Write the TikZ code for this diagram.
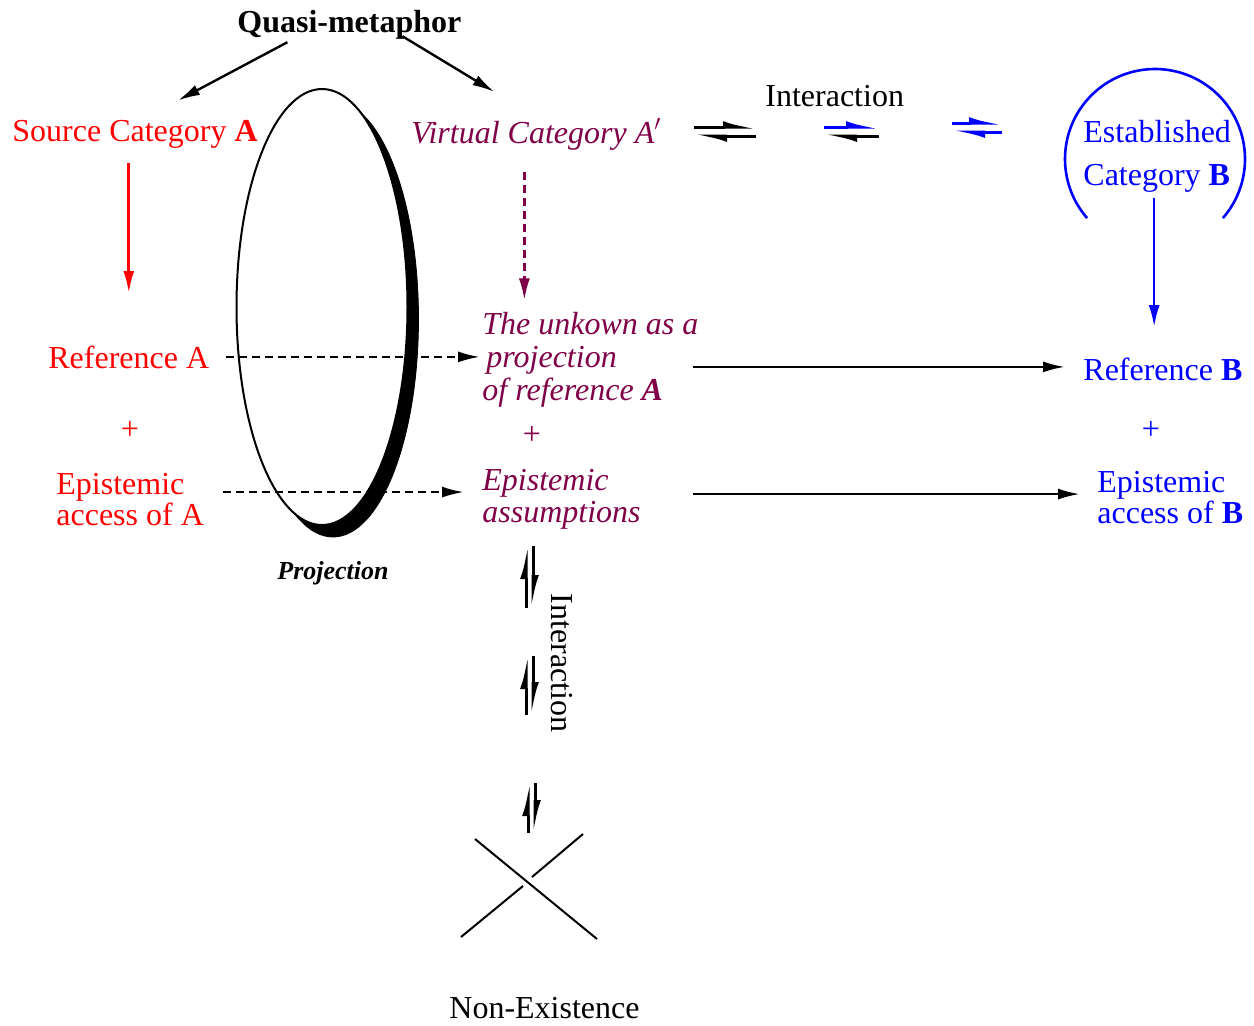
\documentclass[tikz,border=0pt]{standalone}
\usepackage{fontspec}
\setmainfont{Liberation Serif}
\usetikzlibrary{arrows.meta,calc}
\definecolor{srcred}{RGB}{255,0,0}
\definecolor{virtpurple}{RGB}{128,0,72}
\definecolor{estblue}{RGB}{0,0,255}
\tikzset{>={Latex[length=11pt,width=5.5pt]}}
\tikzset{
  txt/.style={inner sep=0pt, align=left, anchor=base west,
    font=\fontsize{16}{15.5}\selectfont},
  plus/.style={inner sep=0pt, font=\fontsize{16}{16}\selectfont},
  arr/.style={->, line width=1.2pt},
  dasharr/.style={->, line width=1.2pt, dash pattern=on 4pt off 2.5pt},
  harp/.style={line width=1.5pt, -{Latex[harpoon,length=12pt,width=6pt]}}
}
\begin{document}
\begin{tikzpicture}[x=0.5pt,y=-0.5pt]
  \useasboundingbox (0,0) rectangle (1254,1025);
  % projection ring with its shadow
  \draw[fill=black] (333,319) ellipse [x radius=42.75pt, y radius=109pt];
  \draw[line width=1pt, fill=white] (322,307) ellipse [x radius=42.75pt, y radius=109pt];
  % texts (multi-line nodes sit on their last baseline)
  \node[txt] (quasi) at (237,32) {\textbf{Quasi-metaphor}};
  \node[txt, srcred] (srcA) at (12,141) {Source Category \textbf{A}};
  \node[txt, virtpurple] (virt) at (411,143) {\textit{Virtual Category A$'$}};
  \node[txt] (inter) at (765,106) {Interaction};
  \node[txt, estblue, font=\fontsize{16}{21.5}\selectfont] (estB) at (1083,185)
    {Established\\Category \textbf{B}};
  \node[txt, srcred] (refA) at (48,368) {Reference A};
  \node[plus, srcred] (plusA) at (130,430) {+};
  \node[txt, srcred] (epiA) at (56,525) {Epistemic\\access of A};
  \node[txt, virtpurple, font=\fontsize{16}{16.5}\selectfont\itshape] (unk) at (482,400)
    {The unkown as a\\\hspace{2pt}projection\\of reference \textbf{A}};
  \node[plus, virtpurple] (plusV) at (532,435) {+};
  \node[txt, virtpurple, font=\fontsize{16}{16}\selectfont\itshape] (epiAs) at (482,522)
    {Epistemic\\assumptions};
  \node[txt, estblue] (refB) at (1083,380) {Reference \textbf{B}};
  \node[plus, estblue] (plusB) at (1151,430) {+};
  \node[txt, estblue] (epiB) at (1097,523) {Epistemic\\access of \textbf{B}};
  \node[txt, font=\fontsize{13}{13}\selectfont] (proj) at (277,579) {\textbf{\textit{Projection}}};
  \node[plus, rotate=-90] (interV) at (562,663) {Interaction};
  \node[txt] (nonex) at (449,1018) {Non-Existence};
  % circle round the established category
  \coordinate (bcirc) at (1155,159);
  \draw[estblue, line width=1.3pt] (bcirc) ++(-41:45pt) arc[start angle=-41, end angle=221, radius=45pt];
  % connectors
  \draw[arr] ([xshift=-31pt,yshift=-1.5pt]quasi.south) -- ([xshift=21.5pt,yshift=9.5pt]srcA.north);
  \draw[arr] ([xshift=26.5pt,yshift=1.5pt]quasi.south) -- ([xshift=-21pt,yshift=13pt]virt.north);
  \draw[arr, srcred, line width=1.4pt, shorten <=7.5pt, shorten >=26pt] (refA.north |- srcA.south) -- (refA.north);
  \draw[arr, virtpurple, line width=1.4pt, dash pattern=on 4pt off 2.5pt, shorten <=11pt, shorten >=5.5pt]
    ([xshift=-6pt]virt.south) -- ([xshift=-6pt]virt.south |- unk.north);
  \draw[arr, estblue, line width=1.3pt, shorten <=3pt, shorten >=15pt] ([xshift=-1.5pt]estB.south) -- ([xshift=-1.5pt]estB.south |- refB.north);
  \coordinate (epiAin) at ([yshift=3.5pt]epiA.east);
  \coordinate (epiBin) at ([yshift=1.5pt]epiB.west);
  \draw[dasharr, shorten <=8pt, shorten >=1pt] (refA.east) -- (refA.east -| unk.west);
  \draw[dasharr, shorten <=9.5pt, shorten >=9pt] (epiAin) -- (epiAin -| epiAs.west);
  \draw[arr, shorten <=-3pt, shorten >=9pt] ([yshift=1pt]unk.east |- refB.west) -- ([yshift=1pt]refB.west);
  \draw[arr, shorten <=-3pt, shorten >=8.5pt] (unk.east |- epiBin) -- (epiBin);
  % equilibrium harpoons
  \foreach \xa/\xb/\yh/\cu/\cd in {694/756/127/black/black,824/879/127/estblue/black,952/1002/123/estblue/estblue}{
    \draw[harp,\cu] (\xa,\yh) -- (\xb,\yh);
    \draw[harp,\cd] (\xb,\yh+9) -- (\xa,\yh+9);
  }
  \foreach \xv/\ya/\yb in {526/546/608,526/656/715,528/783/833}{
    \draw[harp] (\xv,\yb) -- (\xv,\ya);
    \draw[harp] (\xv+7,\ya) -- (\xv+7,\yb);
  }
  % crossing
  \draw[line width=1pt] (475,839) -- (597,939);
  \draw[line width=1pt] (461,937) -- (523,886);
  \draw[line width=1pt] (532,877) -- (583,834);
\end{tikzpicture}
\end{document}
